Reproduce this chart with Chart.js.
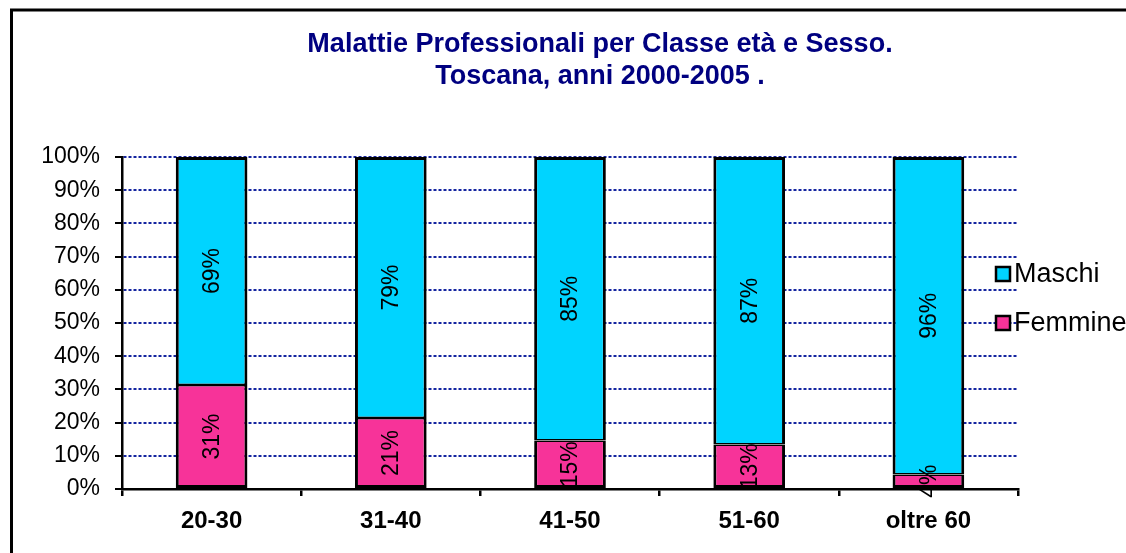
<!DOCTYPE html>
<html>
<head>
<meta charset="utf-8">
<script src="https://cdn.jsdelivr.net/npm/chart.js@4"></script>
<style>
html,body{margin:0;padding:0;background:#fff;overflow:hidden}
#wrap{width:1126px;height:553px}
</style>
</head>
<body>
<div id="wrap"><canvas id="chart" width="1126" height="553"></canvas></div>
<script>
const classi = ['20-30','31-40','41-50','51-60','oltre 60']
const femmine = [31.3,21.4,14.6,13.4,4.4]
const maschi = [68.7,78.6,85.4,86.6,95.6]
const yTicks = [0,10,20,30,40,50,60,70,80,90,100]
const titolo = ['Malattie Professionali per Classe età e Sesso.','Toscana, anni 2000-2005 .']

const FONT = '"Liberation Sans", Arial, sans-serif'

// cornice, titolo, legenda e etichette dentro le barre
const extras = {
    id:'extras',
    afterDraw(chart){
        const ctx = chart.ctx
        ctx.save()
        // cornice
        ctx.strokeStyle = '#000'
        ctx.lineWidth = 3
        ctx.strokeRect(11.5,10,1200,700)
        // titolo
        ctx.fillStyle = '#000080'
        ctx.font = 'bold 27px '+FONT
        ctx.textAlign = 'center'
        ctx.textBaseline = 'middle'
        ctx.fillText(titolo[0],600,45)
        ctx.fillText(titolo[1],600,77)
        // etichette ruotate
        ctx.fillStyle = '#000'
        ctx.font = '23px '+FONT
        chart.data.datasets.forEach((ds,i)=>{
            chart.getDatasetMeta(i).data.forEach((bar,j)=>{
                const cy = (bar.y+bar.base)/2
                ctx.save()
                ctx.translate(bar.x,cy)
                ctx.rotate(-Math.PI/2)
                ctx.fillText(Math.round(ds.data[j])+'%',0,1)
                ctx.restore()
            })
        })
        // legenda
        const items = [chart.data.datasets[1],chart.data.datasets[0]]
        ctx.textAlign = 'left'
        ctx.font = '27px '+FONT
        items.forEach((ds,k)=>{
            const y = 274+k*49
            ctx.fillStyle = ds.backgroundColor
            ctx.fillRect(996,y-7,14,14)
            ctx.lineWidth = 2.5
            ctx.strokeStyle = '#000'
            ctx.strokeRect(996,y-7,14,14)
            ctx.fillStyle = '#000'
            ctx.fillText(ds.label,1014,y+1)
        })
        ctx.restore()
    }
}

new Chart(document.getElementById('chart'),{
    type:'bar',
    data:{
        labels:classi,
        datasets:[{
            label:'Femmine',
            data:femmine,
            backgroundColor:'#F73399',
            borderColor:'#000',
            borderWidth:{top:1.5,left:3,right:3,bottom:3},
            borderSkipped:false
        },{
            label:'Maschi',
            data:maschi,
            backgroundColor:'#00D4FF',
            borderColor:'#000',
            borderWidth:{top:3,left:3,right:3,bottom:1.5},
            borderSkipped:false
        }]
    },
    options:{
        responsive:false,
        animation:false,
        categoryPercentage:1,
        barPercentage:0.4,
        layout:{padding:{top:157,right:108,left:0,bottom:0}},
        plugins:{
            legend:{display:false},
            title:{display:false},
            tooltip:{enabled:false}
        },
        scales:{
            x:{
                stacked:true,
                afterFit:s=>{s.height=64},
                grid:{drawOnChartArea:false,tickLength:7,tickColor:'#000',lineWidth:2.5},
                border:{color:'#000',width:2.5},
                ticks:{color:'#000',padding:11,font:{family:FONT,size:24,weight:'bold'},maxRotation:0}
            },
            y:{
                stacked:true,
                min:0,
                max:100,
                afterFit:s=>{s.width=122},
                afterBuildTicks:s=>{s.ticks=yTicks.map(v=>({value:v}))},
                grid:{color:'#1525a0',lineWidth:2,tickLength:7,tickColor:'#000'},
                border:{color:'#000',width:2.5,dash:[3,2]},
                ticks:{color:'#000',padding:15,font:{family:FONT,size:23},callback:v=>v+'%'}
            }
        }
    },
    plugins:[extras]
})
</script>
</body>
</html>
